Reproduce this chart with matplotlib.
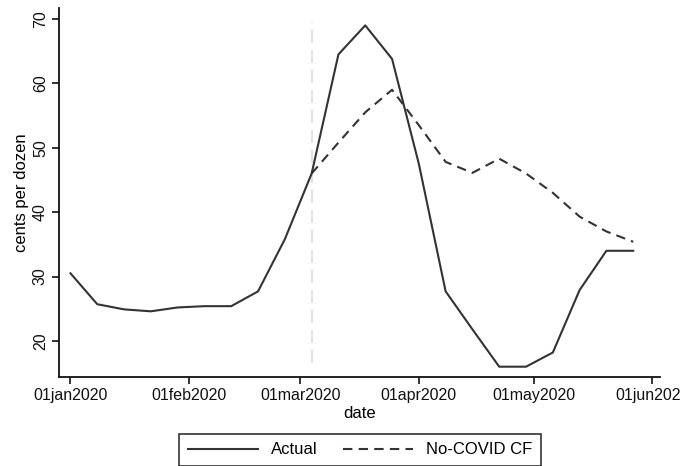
import matplotlib
matplotlib.use("Agg")
import matplotlib.pyplot as plt
import pandas as pd

dates = ["2020-01-01", "2020-01-08", "2020-01-15", "2020-01-22", "2020-01-29",
         "2020-02-05", "2020-02-12", "2020-02-19", "2020-02-26", "2020-03-04",
         "2020-03-11", "2020-03-18", "2020-03-25", "2020-04-01", "2020-04-08",
         "2020-04-15", "2020-04-22", "2020-04-29", "2020-05-06", "2020-05-13",
         "2020-05-20", "2020-05-27"]
actual = [30.5, 25.7, 24.9, 24.6, 25.2, 25.4, 25.4, 27.7, 35.8, 46.0,
          64.5, 69.0, 63.8, 47.5, 27.7, 21.8, 16.0, 16.0, 18.2, 27.9, 34.0, 34.0]
cf_dates = dates[9:]
cf = [46.0, 50.8, 55.5, 59.0, 53.5, 47.8, 46.1, 48.3, 46.0, 43.0, 39.3, 37.0, 35.4]
xticks = ["2020-01-01", "2020-02-01", "2020-03-01", "2020-04-01", "2020-05-01", "2020-06-01"]
xticklabels = ["01jan2020", "01feb2020", "01mar2020", "01apr2020", "01may2020", "01jun2020"]
yticks = [20, 30, 40, 50, 60, 70]
event_date = "2020-03-04"

plt.rcParams['font.family'] = ['Liberation Sans', 'DejaVu Sans']

fig = plt.figure(figsize=(6.81, 4.66), dpi=100)
ax = fig.add_axes([59/681, 89/466, 601/681, 369/466])

d = pd.to_datetime(dates)
dcf = pd.to_datetime(cf_dates)

ax.axvline(pd.Timestamp(event_date), ymin=0.038, ymax=0.962, color='#dddddd',
           lw=1.2, ls=(0, (8, 4)), zorder=1)
ax.plot(d, actual, color='#333333', lw=1.5, label='Actual', zorder=3)
ax.plot(dcf, cf, color='#333333', lw=1.5, ls=(0, (4.5, 3)), label='No-COVID CF', zorder=3)

ax.set_xlim(pd.Timestamp("2019-12-29"), pd.Timestamp("2020-06-03"))
ax.set_ylim(14.4, 71.7)

ax.set_xticks(pd.to_datetime(xticks))
ax.set_xticklabels(xticklabels, fontsize=11.5)
ax.set_yticks(yticks)
ax.set_yticklabels([str(v) for v in yticks], fontsize=11.5, rotation=90, va='center')
ax.tick_params(axis='both', direction='out', length=5, width=1.2, colors='#111111', pad=3)

for s in ['top', 'right']:
    ax.spines[s].set_visible(False)
for s in ['left', 'bottom']:
    ax.spines[s].set_linewidth(1.3)
    ax.spines[s].set_color('#111111')

ax.set_xlabel('date', fontsize=12, labelpad=2)
ax.set_ylabel('cents per dozen', fontsize=12, labelpad=3)

leg = fig.legend(loc='lower center', bbox_to_anchor=(360/681, -8/466), ncol=2,
                 fontsize=12, frameon=True, fancybox=False, handlelength=4.2,
                 columnspacing=1.5, borderpad=0.5, handletextpad=0.8)
leg.get_frame().set_edgecolor('black')
leg.get_frame().set_linewidth(1.2)

fig.savefig('out.png', dpi=100)
